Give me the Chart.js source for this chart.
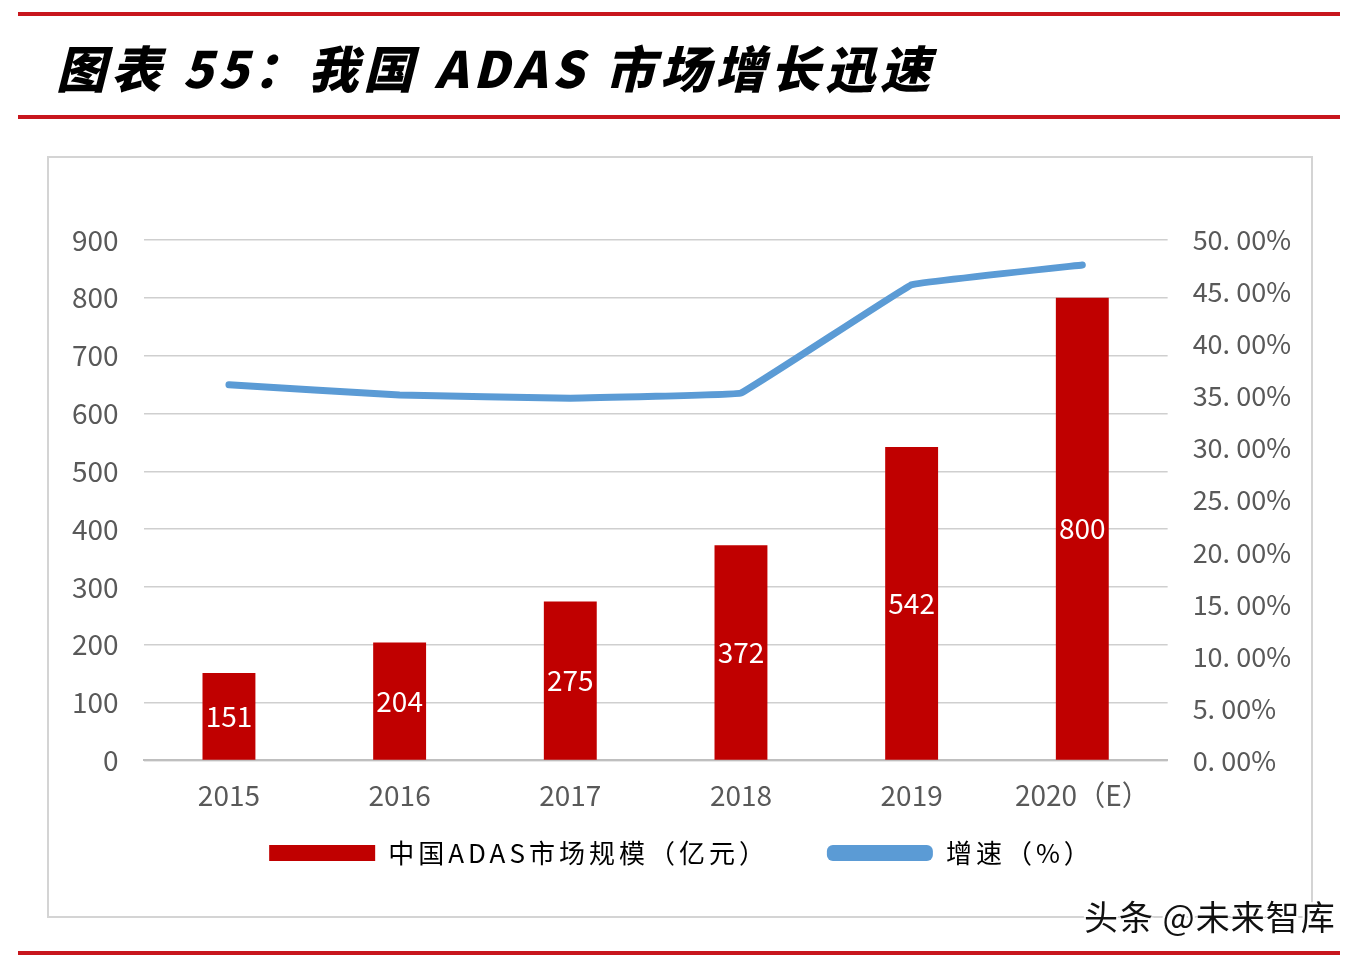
<!DOCTYPE html>
<html>
<head>
<meta charset="utf-8">
<script src="https://cdn.jsdelivr.net/npm/chart.js@4"></script>
<style>
	html, body { margin: 0; padding: 0; background: #fff; }
	body { width: 1362px; height: 962px; position: relative; overflow: hidden; font-family: 'Noto Sans CJK SC', sans-serif; }
	.rule { position: absolute; left: 18px; width: 1322px; height: 4px; background: #c8161d; }
	#title {
		position: absolute; left: 56px; top: 30px; margin: 0;
		font-size: 50px; font-weight: 900; font-style: italic; color: #000;
		letter-spacing: 5px; white-space: nowrap;
	}
	#box { position: absolute; left: 47px; top: 156px; width: 1262px; height: 758px; border: 2px solid #d4d4d4; }
	#wrap { position: absolute; left: 0; top: 0; width: 1262px; height: 758px; }
	#mark {
		position: absolute; left: 1084px; top: 891px; font-size: 34px; color: #111;
		letter-spacing: 1px;
		text-shadow: 2px 2px 0 #fff, -2px -2px 0 #fff, 2px -2px 0 #fff, -2px 2px 0 #fff;
		white-space: nowrap;
	}
</style>
</head>
<body>
<div class="rule" style="top:12px"></div>
<h1 id="title">图表 55：我国 ADAS 市场增长迅速</h1>
<div class="rule" style="top:115px"></div>
<div id="box"><div id="wrap"><canvas id="adas"></canvas></div></div>
<div class="rule" style="top:951px"></div>
<div id="mark">头条 @未来智库</div>

<script>
// data
const years = ['2015', '2016', '2017', '2018', '2019', '2020（E）'];
const marketSize = [151, 204, 275, 372, 542, 800];      // 亿元
const growthRate = [0.361, 0.351, 0.348, 0.353, 0.457, 0.476];

const barLabel = '中国ADAS市场规模（亿元）';
const lineLabel = '增速（%）';

const FONT = "'Noto Sans CJK SC', sans-serif";
const GREY = '#595959';
const LEGEND_SPACING = '4px';
const LEGEND_PAD = 18;   // vertical room
const LEGEND_GAP = 58;   // horizontal gap between the two items

// white value labels centred in each bar
const barValues = {
	id: 'barValues',
	afterDatasetsDraw(chart) {
		const meta = chart.getDatasetMeta(1);
		const ctx = chart.ctx;
		ctx.save();
		ctx.fillStyle = '#fff';
		ctx.font = '28px ' + FONT;
		ctx.textAlign = 'center';
		ctx.textBaseline = 'middle';
		meta.data.forEach((bar, i) => {
			ctx.fillText(String(marketSize[i]), bar.x, (bar.y + bar.base) / 2);
		});
		ctx.restore();
	},
};

const chart = new Chart(document.getElementById('adas'), {
	type: 'bar',
	data: {
		labels: years,
		datasets: [
			{
				type: 'line',
				label: lineLabel,
				data: growthRate,
				yAxisID: 'y1',
				borderColor: '#5b9bd5',
				backgroundColor: '#5b9bd5',
				borderWidth: 7,
				borderCapStyle: 'round',
				borderJoinStyle: 'round',
				tension: 0.04,
				pointRadius: 0,
				order: 0,
			},
			{
				label: barLabel,
				data: marketSize,
				yAxisID: 'y',
				backgroundColor: '#c00000',
				barPercentage: 0.31,
				categoryPercentage: 1,
				order: 1,
			},
		],
	},
	options: {
		responsive: true,
		maintainAspectRatio: false,
		animation: false,
		layout: { padding: { left: -2, right: -5, top: 82, bottom: 40 } },
		plugins: {
			title: { display: false },
			tooltip: { enabled: false },
			legend: {
				position: 'bottom',
				reverse: true,
				labels: {
					color: GREY,
					font: { family: FONT, size: 26 },
					boxWidth: 106,
					boxHeight: 16,
					padding: LEGEND_PAD,
					generateLabels(chart) {
						return chart.data.datasets.map((ds, i) => ({
							text: ds.label,
							fillStyle: ds.backgroundColor,
							strokeStyle: ds.backgroundColor,
							lineWidth: 0,
							borderRadius: ds.type === 'line' ? 6 : 0,
							datasetIndex: i,
						}));
					},
					useBorderRadius: true,
				},
			},
		},
		scales: {
			x: {
				grid: { display: false },
				border: { color: '#bfbfbf', width: 2 },
				ticks: { color: GREY, font: { family: FONT, size: 28 }, padding: 10 },
			},
			y: {
				position: 'left',
				min: 0,
				max: 900,
				ticks: { stepSize: 100, color: GREY, font: { family: FONT, size: 28 }, padding: 25 },
				grid: { color: '#cfcfcf', lineWidth: 1.5, drawTicks: false },
				border: { display: false },
			},
			y1: {
				position: 'right',
				min: 0,
				max: 0.5,
				ticks: {
					stepSize: 0.05,
					color: GREY,
					font: { family: FONT, size: 27 },
					padding: 25,
					callback: (v) => (v * 100).toFixed(2).replace('.', '. ') + '%',
				},
				grid: { display: false, drawTicks: false },
				border: { display: false },
			},
		},
	},
	plugins: [barValues],
});

// legend as in the original: widely spaced text, wide gap between items,
// without the wide gap also eating vertical room
const legend = chart.legend;
const legendFit = legend.fit.bind(legend);
const legendDraw = legend.draw.bind(legend);
const extra = LEGEND_GAP - LEGEND_PAD;
legend.fit = function () {
	this.ctx.letterSpacing = LEGEND_SPACING;
	this.options.labels.padding = LEGEND_GAP;
	legendFit();
	this.height -= extra;
	this.options.labels.padding = LEGEND_PAD;
	this.ctx.letterSpacing = '0px';
};
legend.draw = function () {
	this.ctx.letterSpacing = LEGEND_SPACING;
	this.options.labels.padding = LEGEND_GAP;
	this.top -= extra;
	legendDraw();
	this.top += extra;
	this.options.labels.padding = LEGEND_PAD;
	this.ctx.letterSpacing = '0px';
};
chart.update();
</script>
</body>
</html>
